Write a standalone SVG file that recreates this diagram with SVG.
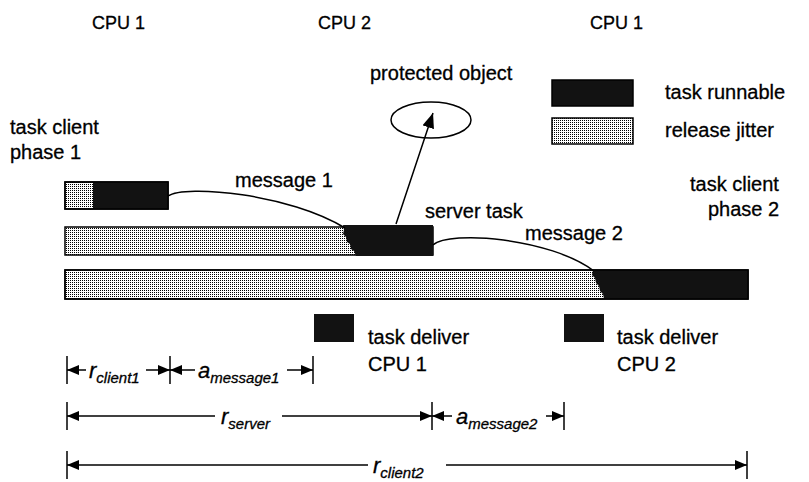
<svg xmlns="http://www.w3.org/2000/svg" width="809" height="482" viewBox="0 0 809 482">
  <style>
    text { font-family: "Liberation Sans", Arial, sans-serif; fill: #000; stroke: #000; stroke-width: 0.3; }
    .lbl { font-size: 20px; }
    .cpu { font-size: 18px; }
    .sym { font-size: 22px; font-style: italic; }
    .sub { font-size: 15px; font-style: italic; }
    .bar { stroke: #000; stroke-width: 1.5; }
    .jit { fill: url(#stipple); }
    .run { fill: #121212; }
    .wire { fill: none; stroke: #000; stroke-width: 1.5; }
    .dim { stroke: #000; stroke-width: 1.5; fill: none; marker-end: url(#tip); }
    .tick { stroke: #000; stroke-width: 1.5; }
  </style>
  <defs>
    <pattern id="stipple" width="2" height="2" patternUnits="userSpaceOnUse">
      <rect width="2" height="2" fill="#fff"/>
      <rect width="1" height="1" fill="#000"/>
    </pattern>
    <marker id="tip" markerWidth="13" markerHeight="11" refX="12" refY="5" orient="auto" markerUnits="userSpaceOnUse">
      <path d="M0,0 L12,5 L0,10 Z" fill="#000"/>
    </marker>
    <marker id="head" markerWidth="16" markerHeight="13" refX="15" refY="6" orient="auto" markerUnits="userSpaceOnUse">
      <path d="M0,0 L15,6 L0,12 Z" fill="#000"/>
    </marker>
  </defs>

  <!-- processor headings -->
  <g id="cpu-headings">
    <text class="cpu" x="92" y="29">CPU 1</text>
    <text class="cpu" x="318" y="29">CPU 2</text>
    <text class="cpu" x="590" y="29">CPU 1</text>
  </g>

  <!-- legend -->
  <g id="legend">
    <rect class="bar run" x="552" y="80" width="81" height="26"/>
    <text class="lbl" x="665" y="99">task runnable</text>
    <rect class="bar jit" x="552" y="118" width="81" height="26"/>
    <text class="lbl" x="665" y="137">release jitter</text>
  </g>

  <!-- shared resource -->
  <g id="protected-object">
    <text class="lbl" x="370" y="80">protected object</text>
    <ellipse cx="431" cy="120" rx="40" ry="18" fill="none" stroke="#000" stroke-width="1.5"/>
  </g>

  <!-- client, first phase -->
  <g id="client-phase1">
    <text class="lbl" x="10" y="134">task client</text>
    <text class="lbl" x="10" y="159">phase 1</text>
    <rect class="bar jit" x="65" y="182" width="103" height="27"/>
    <rect class="run" x="93" y="182" width="75" height="27"/>
    <rect x="65" y="182" width="103" height="27" fill="none" stroke="#000" stroke-width="1.5"/>
  </g>

  <!-- server -->
  <g id="server-task">
    <text class="lbl" x="425" y="218">server task</text>
    <rect class="bar jit" x="65" y="227" width="368" height="28"/>
    <path class="run" d="M343,225 L433,225 L433,256 L356,256 L354,251 L351,249 L350,244 L347,242 L346,237 L343,234 L344,230 Z"/>
  </g>

  <!-- client, second phase -->
  <g id="client-phase2">
    <text class="lbl" x="690" y="191">task client</text>
    <text class="lbl" x="708" y="216">phase 2</text>
    <rect class="bar jit" x="65" y="270" width="683" height="29"/>
    <path class="run" d="M593,270 L748,270 L748,299 L604,299 L603,294 L600,291 L599,286 L596,283 L595,278 L592,275 Z"/>
    <rect x="65" y="270" width="683" height="29" fill="none" stroke="#000" stroke-width="1.5"/>
  </g>

  <!-- deliver tasks -->
  <g id="deliver-cpu1">
    <rect class="run" x="314" y="314" width="40" height="28"/>
    <text class="lbl" x="368" y="344">task deliver</text>
    <text class="lbl" x="368" y="371">CPU 1</text>
  </g>
  <g id="deliver-cpu2">
    <rect class="run" x="564" y="314" width="40" height="28"/>
    <text class="lbl" x="617" y="344">task deliver</text>
    <text class="lbl" x="617" y="371">CPU 2</text>
  </g>

  <!-- messages and the call to the protected object -->
  <g id="connectors">
    <text class="lbl" x="235" y="187">message 1</text>
    <path class="wire" d="M168,196 C185,184 290,194 345,228"/>
    <text class="lbl" x="525" y="240">message 2</text>
    <path class="wire" d="M433,245 C450,230 550,238 594,271"/>
    <line x1="396" y1="224" x2="433" y2="113" stroke="#000" stroke-width="1.5" marker-end="url(#head)"/>
  </g>

  <!-- response time dimensions -->
  <g id="dimensions">
    <line class="tick" x1="67" y1="356" x2="67" y2="384"/>
    <line class="tick" x1="170" y1="356" x2="170" y2="384"/>
    <line class="tick" x1="313" y1="356" x2="313" y2="384"/>
    <line class="dim" x1="86" y1="370" x2="67" y2="370"/>
    <text x="89" y="378"><tspan class="sym">r</tspan><tspan class="sub" dy="5">client1</tspan></text>
    <line class="dim" x1="146" y1="370" x2="170" y2="370"/>
    <line class="dim" x1="195" y1="370" x2="170" y2="370"/>
    <text x="198" y="378"><tspan class="sym">a</tspan><tspan class="sub" dy="5">message1</tspan></text>
    <line class="dim" x1="287" y1="370" x2="313" y2="370"/>

    <line class="tick" x1="67" y1="402" x2="67" y2="430"/>
    <line class="tick" x1="432" y1="402" x2="432" y2="430"/>
    <line class="tick" x1="564" y1="402" x2="564" y2="430"/>
    <line class="dim" x1="215" y1="416" x2="67" y2="416"/>
    <text x="221" y="424"><tspan class="sym">r</tspan><tspan class="sub" dy="5">server</tspan></text>
    <line class="dim" x1="282" y1="416" x2="432" y2="416"/>
    <line class="dim" x1="452" y1="416" x2="432" y2="416"/>
    <text x="456" y="424"><tspan class="sym">a</tspan><tspan class="sub" dy="5">message2</tspan></text>
    <line class="dim" x1="546" y1="416" x2="564" y2="416"/>

    <line class="tick" x1="67" y1="451" x2="67" y2="479"/>
    <line class="tick" x1="747" y1="451" x2="747" y2="479"/>
    <line class="dim" x1="368" y1="465" x2="67" y2="465"/>
    <text x="373" y="473"><tspan class="sym">r</tspan><tspan class="sub" dy="5">client2</tspan></text>
    <line class="dim" x1="446" y1="465" x2="747" y2="465"/>
  </g>
</svg>
